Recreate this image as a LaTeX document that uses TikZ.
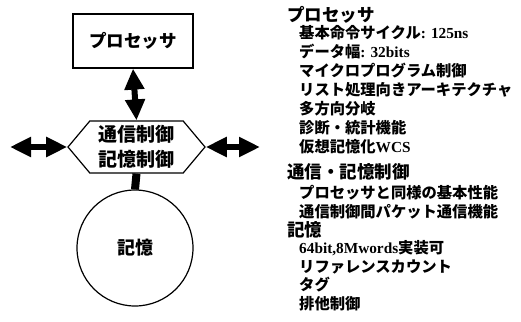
\documentclass[tikz,border=0pt]{standalone}
\usepackage{fontspec}
\setmainfont{Noto Sans CJK JP}
\newfontfamily\lat{Liberation Serif}
\usetikzlibrary{arrows.meta,shapes.symbols}

\tikzset{
  unit/.style={draw, line width=1.2pt, inner sep=0pt},
  procbox/.style={unit, minimum width=120pt, minimum height=54pt,
    font=\bfseries\fontsize{17.5}{17.5}\selectfont},
  ctrlhex/.style={unit, signal, signal to=east and west, signal pointer angle=100,
    minimum width=137pt, minimum height=52pt, align=center,
    font=\bfseries\fontsize{19}{25}\selectfont},
  memcirc/.style={unit, circle, minimum size=116pt,
    font=\bfseries\fontsize{18}{18}\selectfont},
  bus/.style={line width=6pt,
    {Triangle[length=21pt,width=19pt]}-{Triangle[length=21pt,width=19pt]}},
  head/.style={anchor=west, inner sep=0pt, font=\bfseries\fontsize{17.5}{17.5}\selectfont},
  item/.style={anchor=west, inner sep=0pt, font=\bfseries\fontsize{15.3}{15.3}\selectfont},
}

\begin{document}
\begin{tikzpicture}[x=1pt, y=-1pt]
\useasboundingbox (0,0) rectangle (521,321);

% block diagram
\node[procbox] (proc) at (133,41) {プロセッサ};
\node[ctrlhex] (ctrl) at (136.5,147) {通信制御\\記憶制御};
\node[memcirc] (mem) at (135,248) {記憶};
\coordinate (lnet) at (10,147);
\coordinate (rnet) at (260,147);

\draw[bus] (proc.south) -- (ctrl.north);
\draw[bus] (lnet) -- (ctrl.west);
\draw[bus] (ctrl.east) -- (rnet);
\draw[line width=8pt] (ctrl.south) -- (mem.north);

% feature list
\node[head] (hproc) at (287,15) {プロセッサ};
\foreach \t [count=\i] in {基本命令サイクル{\lat : 125ns}, データ幅{\lat : 32bits},
    マイクロプログラム制御, リスト処理向きアーキテクチャ, 多方向分岐,
    診断・統計機能, 仮想記憶化{\lat WCS}}
  \node[item] (proc\i) at (299,14+19*\i) {\t};

\node[head] (hctrl) at (287,172) {通信・記憶制御};
\foreach \t [count=\i] in {プロセッサと同様の基本性能, 通信制御間パケット通信機能}
  \node[item] (ctrl\i) at (299,174+19*\i) {\t};

\node[head] (hmem) at (287,230) {記憶};
\foreach \t [count=\i] in {{{\lat 64bit,8Mwords}実装可}, リファレンスカウント, タグ, 排他制御}
  \node[item] (mem\i) at (299,230+18.3*\i) {\t};
\end{tikzpicture}
\end{document}
